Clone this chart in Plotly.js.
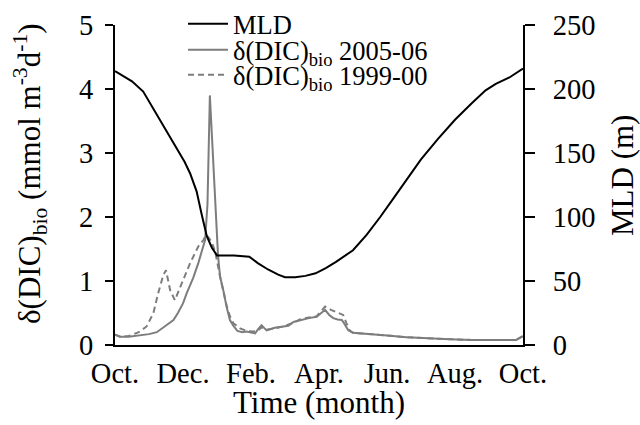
<!DOCTYPE html>
<html>
<head>
<meta charset="utf-8">
<script src="https://cdn.plot.ly/plotly-3.0.1.min.js"></script>
<style>
  html, body { margin: 0; padding: 0; background: #ffffff; }
  #chart { width: 640px; height: 425px; }
</style>
</head>
<body>
<div id="chart"></div>
<script>
// Time axis: months elapsed since 1 October (0 = Oct., 12 = following Oct.)
const monthTickVals = [0, 1, 2, 3, 4, 5, 6, 7, 8, 9, 10, 11, 12];
const monthTickText = ['Oct.', '', 'Dec.', '', 'Feb.', '', 'Apr.', '', 'Jun.', '', 'Aug.', '', 'Oct.'];

// Mixed layer depth (m), right axis
const mldTime = [0, 0.5, 0.83, 1.03, 1.42, 1.81, 2.05, 2.21, 2.4, 2.55, 2.7, 2.85, 3.0, 3.5, 3.95,
  4.2, 4.5, 4.8, 5.0, 5.3, 5.6, 5.9, 6.2, 6.5, 7.0, 7.4, 7.8, 8.2, 8.6, 9.0, 9.5, 10.0, 10.5,
  10.9, 11.2, 11.6, 12.0];
const mldDepth = [214, 206, 198, 189, 171, 154, 143, 134, 120, 102, 85, 76, 70, 70, 69,
  64, 59, 55, 53, 53, 54, 56, 60, 65, 74, 86, 100, 115, 130, 145, 161, 176, 189,
  199, 204, 209, 216];

// δ(DIC)bio 2005-06 (mmol m-3 d-1), left axis
const dic0506Time = [0, 0.15, 0.4, 0.7, 1.0, 1.23, 1.45, 1.6, 1.72, 1.85, 2.0, 2.11, 2.3, 2.45,
  2.55, 2.65, 2.72, 2.79, 3.03, 3.09, 3.2, 3.28, 3.38, 3.48, 3.6, 3.75, 3.87, 4.0, 4.12, 4.2,
  4.31, 4.4, 4.46, 4.7, 4.95, 5.1, 5.25, 5.44, 5.7, 5.93, 6.05, 6.18, 6.3, 6.42, 6.55, 6.67,
  6.75, 6.86, 7.0, 7.3, 7.6, 8.0, 8.58, 9.2, 9.85, 10.5, 11.2, 11.8, 12.0];
const dic0506 = [0.16, 0.13, 0.13, 0.15, 0.17, 0.2, 0.28, 0.34, 0.39, 0.5, 0.65, 0.81, 1.05, 1.28,
  1.45, 1.64, 2.2, 3.9, 1.4, 1.07, 0.82, 0.6, 0.39, 0.3, 0.22, 0.2, 0.21, 0.19, 0.18, 0.24,
  0.31, 0.26, 0.23, 0.27, 0.29, 0.3, 0.36, 0.39, 0.42, 0.44, 0.5, 0.55, 0.47, 0.42, 0.4, 0.39,
  0.33, 0.23, 0.19, 0.18, 0.17, 0.15, 0.12, 0.1, 0.09, 0.08, 0.08, 0.08, 0.14];

// δ(DIC)bio 1999-00 (mmol m-3 d-1), left axis
const dic9900Time = [0, 0.15, 0.4, 0.7, 0.93, 1.13, 1.27, 1.42, 1.5, 1.62, 1.76, 1.96, 2.21, 2.45,
  2.6, 2.68, 2.75, 2.85, 2.95, 3.09, 3.28, 3.38, 3.48, 3.68, 3.87, 4.07, 4.2, 4.31, 4.46, 4.7,
  4.95, 5.25, 5.44, 5.7, 5.93, 6.05, 6.18, 6.35, 6.57, 6.71, 6.8, 6.9, 7.0, 7.3, 7.6, 8.0,
  8.58, 9.2, 9.85, 10.5, 11.2, 11.8, 12.0];
const dic9900 = [0.16, 0.13, 0.14, 0.2, 0.29, 0.5, 0.81, 1.09, 1.17, 0.86, 0.7, 0.96, 1.28, 1.54,
  1.64, 1.72, 1.68, 1.6, 1.45, 1.07, 0.62, 0.45, 0.34, 0.26, 0.22, 0.21, 0.22, 0.28, 0.24, 0.26,
  0.29, 0.35, 0.4, 0.43, 0.45, 0.52, 0.6, 0.55, 0.5, 0.47, 0.35, 0.23, 0.19, 0.18, 0.17, 0.15,
  0.12, 0.1, 0.09, 0.08, 0.08, 0.08, 0.14];

const SERIF = 'Liberation Serif, Times New Roman, serif';
const GREY = '#7d7d7d';

const traces = [
  {
    x: dic0506Time, y: dic0506, yaxis: 'y', type: 'scatter', mode: 'lines',
    name: 'δ(DIC)<sub>bio</sub> 2005-06', legend: 'legend2',
    line: { color: GREY, width: 2 }
  },
  {
    x: dic9900Time, y: dic9900, yaxis: 'y', type: 'scatter', mode: 'lines',
    name: 'δ(DIC)<sub>bio</sub> 1999-00', legend: 'legend3',
    line: { color: GREY, width: 2, dash: '6px,4px' }
  },
  {
    x: mldTime, y: mldDepth, yaxis: 'y2', type: 'scatter', mode: 'lines',
    name: 'MLD', legend: 'legend',
    line: { color: '#000000', width: 2 }
  }
];

// paper coordinates for the plot frame (x: 115..523 px, y: 345..25 px)
function px2x(p) { return (p - 115) / 408; }
function px2y(p) { return (345 - p) / 320; }

// one single-item legend per series so the rows can sit close together
function legendAt(yPx) {
  return {
    x: px2x(183), y: px2y(yPx), xanchor: 'left', yanchor: 'middle',
    bgcolor: 'rgba(0,0,0,0)', borderwidth: 0, itemwidth: 40,
    font: { family: SERIF, size: 26.5, color: '#000' }
  };
}

function axisTitle(text, xPx, yPx, angle) {
  return {
    text: text, textangle: angle, xref: 'paper', yref: 'paper',
    x: px2x(xPx), y: px2y(yPx), xanchor: 'center', yanchor: 'middle',
    showarrow: false, font: { family: SERIF, size: 31, color: '#000' }
  };
}

const axisCommon = {
  showgrid: false, zeroline: false, showline: true, linecolor: '#000', linewidth: 2,
  ticks: 'outside', tickcolor: '#000', tickwidth: 2,
  tickfont: { family: SERIF, size: 28.5, color: '#000' }
};

const layout = {
  width: 640, height: 425,
  margin: { l: 115, r: 117, t: 25, b: 80, autoexpand: false },
  paper_bgcolor: '#ffffff', plot_bgcolor: '#ffffff',
  showlegend: true,
  legend: legendAt(24),
  legend2: legendAt(50),
  legend3: legendAt(75),
  // time axis: line and month labels (tick marks come from xaxis2)
  xaxis: Object.assign({}, axisCommon, {
    range: [0, 12], tickmode: 'array', tickvals: monthTickVals, ticktext: monthTickText,
    ticks: '', automargin: false, ticklabelstandoff: 2
  }),
  // monthly tick marks below the time axis
  xaxis2: {
    range: [0, 12], tickmode: 'array', tickvals: monthTickVals, ticks: 'outside', ticklen: 8,
    tickwidth: 2, tickcolor: '#000', showticklabels: false, showline: false, showgrid: false,
    zeroline: false, overlaying: 'x', side: 'bottom', anchor: 'y'
  },
  yaxis: Object.assign({}, axisCommon, {
    range: [0, 5], tickmode: 'linear', tick0: 0, dtick: 1, ticklen: 8, automargin: false,
    ticklabelstandoff: 6
  }),
  yaxis2: Object.assign({}, axisCommon, {
    range: [0, 250], tickmode: 'linear', tick0: 0, dtick: 50, ticklen: 10,
    overlaying: 'y', side: 'right', anchor: 'x', automargin: false, ticklabelstandoff: 12
  }),
  // inward half of the crossing ticks on the MLD axis
  yaxis3: {
    range: [0, 250], tickmode: 'linear', tick0: 0, dtick: 50, ticks: 'inside', ticklen: 10,
    tickwidth: 2, tickcolor: '#000', showticklabels: false, showline: false, showgrid: false,
    zeroline: false, overlaying: 'y', side: 'right', anchor: 'x'
  },
  annotations: [
    axisTitle('Time (month)', 319, 402, 0),
    axisTitle('δ(DIC)<sub>bio</sub> (mmol m<sup>-3</sup>d<sup>-1</sup>)', 30, 174, -90),
    axisTitle('MLD (m)', 622, 176, -90)
  ]
};

Plotly.newPlot('chart', traces, layout, { staticPlot: true, displayModeBar: false });
</script>
</body>
</html>
